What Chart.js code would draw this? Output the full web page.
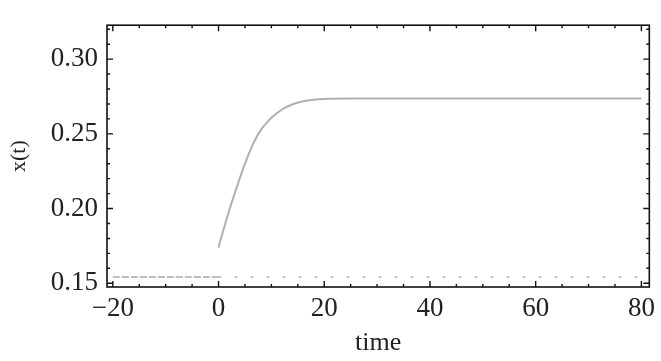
<!DOCTYPE html>
<html>
<head>
<meta charset="utf-8">
<script src="https://cdn.jsdelivr.net/npm/chart.js@4"></script>
<style>
body{margin:0;background:#fff;}
#wrap{width:661px;height:361px;position:relative;}
</style>
</head>
<body>
<div id="wrap"><canvas id="miGrafico"></canvas></div>
<script>
// response curve after t = 0
const tiempos = [0,1,2,3,4,5,6,7,8,9,10,12,14,16,18,20,25,30,40,50,60,70,80];
const valores = [0.174,0.1867,0.1985,0.2095,0.2200,0.2300,0.2390,0.2465,0.2525,0.2570,0.2608,0.2663,0.2698,0.2718,0.2728,0.2733,0.2736,0.2736,0.2736,0.2736,0.2736,0.2736,0.2736];

// history before t = 0
const tiemposPrevios = [-20,0];
const valoresPrevios = [0.1542,0.1542];

// dotted reference level
const tiemposRef = [0,80];
const valoresRef = [0.1542,0.1542];

const ticksX = [-20,0,20,40,60,80];
const ticksY = [0.15,0.20,0.25,0.30];

function pares(xs, ys){
  return xs.map((x,i)=>({x:x,y:ys[i]}));
}

// frame with inward ticks, like the original plot
const marco = {
  id:'marco',
  afterDatasetsDraw(chart){
    const {ctx, chartArea:a, scales:{x, y}} = chart;
    ctx.save();
    ctx.strokeStyle = '#111';
    ctx.lineWidth = 1.6;
    ctx.strokeRect(a.left, a.top, a.right-a.left, a.bottom-a.top);
    ctx.lineWidth = 1.4;
    ctx.beginPath();
    for(let v=-20; v<=80; v+=5){
      const px = x.getPixelForValue(v);
      const len = (v % 20 === 0) ? 6 : 3;
      ctx.moveTo(px, a.bottom); ctx.lineTo(px, a.bottom-len);
      ctx.moveTo(px, a.top); ctx.lineTo(px, a.top+len);
    }
    for(let k=15; k<=32; k++){
      const v = k/100;
      const py = y.getPixelForValue(v);
      const len = (k % 5 === 0) ? 6 : 3;
      ctx.moveTo(a.left, py); ctx.lineTo(a.left+len, py);
      ctx.moveTo(a.right, py); ctx.lineTo(a.right-len, py);
    }
    ctx.stroke();
    ctx.restore();
  }
};

new Chart(document.getElementById('miGrafico').getContext('2d'), {
  type:'scatter',
  data:{
    datasets:[
      {
        data:pares(tiemposRef, valoresRef),
        showLine:true,
        borderColor:'#c4c4c4',
        borderWidth:2,
        borderDash:[3,13],
        pointRadius:0
      },
      {
        data:pares(tiemposPrevios, valoresPrevios),
        showLine:true,
        borderColor:'#bdbdbd',
        borderWidth:2,
        borderDash:[7,2],
        pointRadius:0
      },
      {
        data:pares(tiempos, valores),
        showLine:true,
        borderColor:'#b0b0b0',
        borderWidth:2,
        cubicInterpolationMode:'monotone',
        pointRadius:0
      }
    ]
  },
  options:{
    responsive:true,
    maintainAspectRatio:false,
    animation:false,
    layout:{padding:{left:0,right:8,top:7,bottom:0}},
    plugins:{legend:{display:false},tooltip:{enabled:false}},
    scales:{
      x:{
        type:'linear',
        min:-21.1,
        max:81.5,
        afterBuildTicks(s){ s.ticks = ticksX.map(v=>({value:v})); },
        afterFit(s){ s.height = 74; },
        grid:{display:false,drawTicks:false},
        border:{display:false},
        ticks:{
          padding:6,
          color:'#222',
          maxRotation:0,
          font:{family:'Liberation Serif',size:27},
          callback:v=> v<0 ? '\u2212'+Math.abs(v) : String(v)
        },
        title:{
          display:true,
          text:'time',
          color:'#222',
          padding:{top:0,bottom:2},
          font:{family:'Liberation Serif',size:26}
        }
      },
      y:{
        type:'linear',
        min:0.1475,
        max:0.3227,
        afterBuildTicks(s){ s.ticks = ticksY.map(v=>({value:v})); },
        afterFit(s){ s.width = 107; },
        grid:{display:false,drawTicks:false},
        border:{display:false},
        ticks:{
          padding:9,
          color:'#222',
          font:{family:'Liberation Serif',size:27},
          callback:v=> v.toFixed(2)
        },
        title:{
          display:true,
          text:'x(t)',
          color:'#222',
          padding:{top:6,bottom:0},
          font:{family:'Liberation Serif',size:22}
        }
      }
    }
  },
  plugins:[marco]
});
</script>
</body>
</html>
